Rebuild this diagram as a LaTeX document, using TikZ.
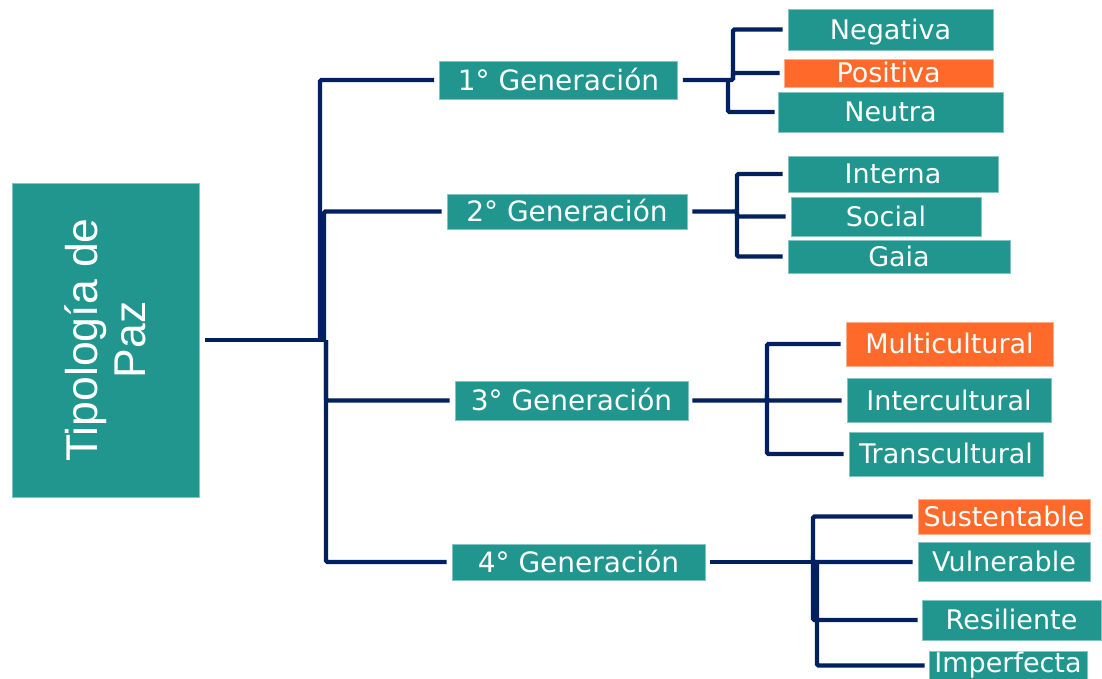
\documentclass[tikz,border=0pt]{standalone}
\usepackage{fontspec}
\setmainfont{DejaVu Sans}
\newfontfamily\arialfont{Liberation Sans}
\definecolor{myteal}{RGB}{33,150,142}
\definecolor{myorange}{RGB}{255,106,42}
\definecolor{mynavy}{RGB}{0,32,96}
\begin{document}
\begin{tikzpicture}[x=1pt,y=-1pt,
  box/.style={rectangle, fill=myteal, draw=myteal!55!white, line width=0.6pt, text=white,
    inner sep=0pt, text depth=0pt, align=center},
  obox/.style={box, fill=myorange, draw=myorange!55!white},
  gfont/.style={font=\fontsize{28}{33}\selectfont, text height=20.4pt},
  cfont/.style={font=\fontsize{27}{32}\selectfont, text height=19.7pt},
  conn/.style={draw=mynavy, line width=4.3pt, rounded corners=1.5pt}]
\fill[white] (0,0) rectangle (1102,679);
\useasboundingbox (0,0) rectangle (1102,679);
% main
\node[box, rotate=90, minimum width=314, minimum height=187,
  font=\arialfont\fontsize{44.5}{48}\selectfont] (main) at (105.5,340) {Tipología de\\Paz};
% generations
\node[box, gfont, minimum width=238, minimum height=38] (g1) at (558.5,80) {1° Generación};
\node[box, gfont, minimum width=240, minimum height=35] (g2) at (567,211.5) {2° Generación};
\node[box, gfont, minimum width=233, minimum height=39] (g3) at (571.5,400.5) {3° Generación};
\node[box, gfont, minimum width=253, minimum height=36] (g4) at (578.5,562) {4° Generación};
% children
\node[box, cfont, minimum width=205, minimum height=41] (neg) at (890.5,29.5) {Negativa};
\node[obox, cfont, minimum width=209, minimum height=28] (pos) at (888.5,73) {Positiva};
\node[box, cfont, minimum width=225, minimum height=40] (neu) at (890.5,112) {Neutra};
\node[box, cfont, minimum width=210, minimum height=36] (int) at (893,174) {Interna};
\node[box, cfont, minimum width=190, minimum height=39] (soc) at (886,216.5) {Social};
\node[box, cfont, minimum width=222, minimum height=33] (gaia) at (899,256.5) {Gaia};
\node[obox, cfont, minimum width=207, minimum height=44] (mul) at (949.5,344) {Multicultural};
\node[box, cfont, minimum width=204, minimum height=44] (inte) at (949,400.5) {Intercultural};
\node[box, cfont, minimum width=194, minimum height=44] (tra) at (946,454) {Transcultural};
\node[obox, cfont, minimum width=172, minimum height=35] (sus) at (1004,516.5) {Sustentable};
\node[box, cfont, minimum width=172, minimum height=39] (vul) at (1004,562) {Vulnerable};
\node[box, cfont, minimum width=179, minimum height=40] (res) at (1011.5,620) {Resiliente};
\node[box, cfont, text depth=6pt, minimum width=158, minimum height=28] (imp) at (1008,665.5) {Imperfecta};
% trunk
\coordinate (ja) at (320,340);
\coordinate (jb) at (324,340);
\coordinate (jc) at (326,340);
\draw[conn] ([xshift=6pt]main.south) -- (jc);
\draw[conn] (ja) |- ([xshift=-5pt]g1.west);
\draw[conn] (jb) |- ([xshift=-5pt]g2.west);
\draw[conn] (jc) |- ([xshift=-5pt]g3.west);
\draw[conn] (jc) |- ([xshift=-5pt]g4.west);
% gen 1
\coordinate (k1) at (733,80);
\coordinate (k1b) at (728,80);
\draw[conn] ([xshift=5pt]g1.east) -- (k1) |- ([xshift=-5pt]neg.west);
\draw[conn] (k1) |- ([xshift=-4pt]pos.west);
\draw[conn] (k1b) |- ([xshift=-3pt]neu.west);
% gen 2
\coordinate (k2) at (737,211.5);
\draw[conn] ([xshift=5pt]g2.east) -- (k2) |- ([xshift=-5pt]int.west);
\draw[conn] (k2) |- ([xshift=-5pt]soc.west);
\draw[conn] (k2) |- ([xshift=-5pt]gaia.west);
% gen 3
\coordinate (k3) at (767,400.5);
\draw[conn] ([xshift=4pt]g3.east) -- (k3) |- ([xshift=-5pt]mul.west);
\draw[conn] (k3) |- ([xshift=-5pt]inte.west);
\draw[conn] (k3) |- ([xshift=-5pt]tra.west);
% gen 4
\coordinate (k4) at (813,562);
\coordinate (k4b) at (817,562);
\draw[conn] ([xshift=5pt]g4.east) -- (k4b);
\draw[conn] (k4) |- ([xshift=-5pt]sus.west);
\draw[conn] (k4) |- ([xshift=-5pt]vul.west);
\draw[conn] (k4) |- ([xshift=-4pt]res.west);
\draw[conn] (k4b) |- ([xshift=-4pt]imp.west);
\end{tikzpicture}
\end{document}
